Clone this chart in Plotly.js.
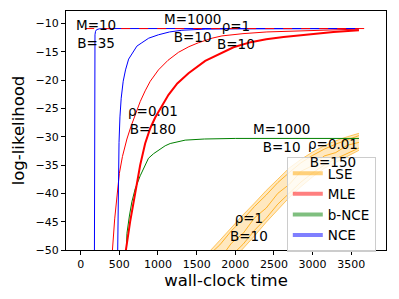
<!DOCTYPE html>
<html>
<head>
<meta charset="utf-8">
<script src="https://cdn.plot.ly/plotly-3.0.1.min.js"></script>
<style>html,body{margin:0;padding:0;background:#fff;}#plot{width:399px;height:299px;}</style>
</head>
<body>
<div id="plot"></div>
<script>
// ---- data ----
const nce1X = [176, 177, 178, 179, 181, 185, 192, 205, 240, 400, 1000, 2000, 3600];
const nce1Y = [-60, -45, -30, -18, -13.5, -12, -11.4, -11.1, -10.95, -10.9, -10.9, -10.9, -10.9];

const nce2X = [470, 476, 486, 496, 508, 524, 550, 580, 620, 662, 727, 792, 880, 1006, 1150, 1309, 1611, 2000, 2600, 3600];
const nce2Y = [-60, -50, -40, -31, -26.5, -23.2, -20.2, -18.2, -16.3, -15.3, -14.0, -13.4, -12.6, -12.0, -11.5, -11.2, -11.0, -10.95, -10.9, -10.9];

const mleThinX = [405, 411, 440, 470, 500, 540, 598, 650, 705, 770, 834, 900, 1006, 1130, 1265, 1400, 1524, 1700, 1827, 2100, 2409, 2700, 3056, 3300, 3600];
const mleThinY = [-55, -50, -44.5, -39.8, -36.5, -33.5, -30.4, -28.2, -26.0, -23.8, -21.9, -20.2, -18.2, -16.5, -15.1, -14.1, -13.4, -12.6, -12.2, -11.8, -11.5, -11.35, -11.2, -11.1, -11.0];

const mleThickX = [575, 585, 640, 705, 770, 834, 900, 964, 1071, 1136, 1250, 1395, 1611, 1847, 1977, 2200, 2400, 2624, 2900, 3270, 3600];
const mleThickY = [-55, -50, -45, -39.6, -35, -31.2, -28.5, -26.6, -24.0, -22.6, -20.6, -18.8, -16.6, -15.0, -14.2, -13.3, -12.8, -12.4, -12.0, -11.5, -11.2];

const bnceX = [580, 590, 598, 630, 662, 705, 770, 877, 942, 1093, 1158, 1352, 1600, 2000, 3600];
const bnceY = [-55, -50, -47.1, -44, -41.5, -39.2, -36.9, -33.8, -33.0, -31.6, -31.2, -30.6, -30.4, -30.3, -30.3];

const trueX = [58, 3770];
const trueY = [-10.9, -10.9];

const lseX = [1500, 1650, 1800, 1950, 2100, 2250, 2400, 2550, 2700, 2850, 3000, 3150, 3300, 3450, 3600];
const lseUpper = [-52.5, -50.5, -48.3, -46.0, -43.8, -41.7, -39.5, -37.5, -35.5, -34.0, -32.7, -31.6, -30.7, -30.0, -29.4];
const lseLower = [-58.5, -56.5, -54.3, -52.0, -49.8, -47.5, -45.1, -42.9, -40.7, -38.8, -37.1, -35.6, -34.5, -33.4, -32.4];
const lseRun1 = [-53.2, -51.0, -49.1, -46.6, -44.6, -42.3, -40.3, -38.1, -36.3, -34.6, -33.3, -32.2, -31.3, -30.5, -29.8];
const lseRun2 = [-55.8, -53.2, -51.6, -48.8, -47.1, -44.3, -42.6, -40.0, -38.4, -36.1, -35.1, -33.4, -32.8, -31.5, -31.0];
const lseRun3 = [-57.6, -55.4, -53.5, -51.0, -49.0, -46.5, -44.4, -41.9, -39.9, -38.0, -36.4, -35.0, -33.9, -32.9, -32.0];

const legendNames = ["LSE", "MLE", "b-NCE", "NCE"];
const xTicks = [0, 500, 1000, 1500, 2000, 2500, 3000, 3500];
const yTicks = [-50, -45, -40, -35, -30, -25, -20, -15, -10];

const labelTexts = ["M=10<br>B=35", "M=1000<br>B=10", "ρ=1<br>B=10", "ρ=0.01<br>B=180", "M=1000<br>B=10", "ρ=0.01<br>B=150", "ρ=1<br>B=10"];
const labelX = [200, 1449, 2005, 938, 2594, 3260, 2180];
const labelY = [-11.8, -10.8, -12.0, -27.1, -30.2, -32.9, -46.0];

// ---- styles ----
const FONT = "DejaVu Sans, Liberation Sans, sans-serif";
const orange = "#FFA500";
const legendColors = ["rgba(255,165,0,0.5)", "rgba(255,0,0,0.5)", "rgba(0,128,0,0.5)", "rgba(0,0,255,0.5)"];

const traces = [
  {x: lseX, y: lseUpper, mode: "lines", line: {width: 0.6, color: orange}, showlegend: false, hoverinfo: "skip"},
  {x: lseX, y: lseLower, mode: "lines", line: {width: 0.6, color: orange}, fill: "tonexty", fillcolor: "rgba(255,165,0,0.25)", showlegend: false, hoverinfo: "skip"},
  {x: lseX, y: lseRun1, mode: "lines", line: {width: 0.8, color: orange}, showlegend: false},
  {x: lseX, y: lseRun2, mode: "lines", line: {width: 0.8, color: orange}, showlegend: false},
  {x: lseX, y: lseRun3, mode: "lines", line: {width: 0.8, color: orange}, showlegend: false},
  {x: bnceX, y: bnceY, mode: "lines", line: {width: 1, color: "#008000"}, showlegend: false},
  {x: mleThinX, y: mleThinY, mode: "lines", line: {width: 1, color: "red"}, showlegend: false},
  {x: mleThickX, y: mleThickY, mode: "lines", line: {width: 2, color: "red"}, showlegend: false},
  {x: nce1X, y: nce1Y, mode: "lines", line: {width: 1, color: "blue"}, showlegend: false},
  {x: nce2X, y: nce2Y, mode: "lines", line: {width: 1, color: "blue"}, showlegend: false},
  {x: trueX, y: trueY, mode: "lines", line: {width: 1, color: "red", dash: "dash"}, showlegend: false}
];
legendNames.forEach((n, i) => {
  traces.push({x: [null], y: [null], mode: "lines", name: n, line: {width: 4, color: legendColors[i]}, showlegend: true});
});

const annotations = labelTexts.map((t, i) => ({
  x: labelX[i], y: labelY[i], xref: "x", yref: "y", text: t, showarrow: false,
  font: {family: FONT, size: 13.5, color: "#000"}, xanchor: "center", yanchor: "middle"
}));

const layout = {
  width: 399, height: 299,
  margin: {l: 66, r: 13, t: 11, b: 49, pad: 0},
  paper_bgcolor: "#fff", plot_bgcolor: "#fff",
  font: {family: FONT, color: "#000"},
  showlegend: true,
  legend: {
    x: 0.69, y: 0.389, xanchor: "left", yanchor: "top", traceorder: "normal",
    bgcolor: "rgba(255,255,255,0.8)", bordercolor: "#cccccc", borderwidth: 1,
    font: {family: FONT, size: 13.5, color: "#000"}, tracegroupgap: 0, itemwidth: 30
  },
  xaxis: {
    range: [-190, 3950], tickvals: xTicks, ticktext: xTicks.map(String),
    showgrid: false, zeroline: false, showline: true, mirror: true, linecolor: "#000", linewidth: 1,
    ticks: "outside", ticklen: 4, tickcolor: "#000", tickfont: {family: FONT, size: 11, color: "#000"},
    title: {text: "wall-clock time", font: {family: FONT, size: 16.5, color: "#000"}, standoff: 4}
  },
  yaxis: {
    range: [-50, -7.8], tickvals: yTicks,
    showgrid: false, zeroline: false, showline: true, mirror: true, linecolor: "#000", linewidth: 1,
    ticks: "outside", ticklen: 4, tickcolor: "#000", tickfont: {family: FONT, size: 11, color: "#000"},
    title: {text: "log-likelihood", font: {family: FONT, size: 16.5, color: "#000"}, standoff: 6}
  },
  annotations: annotations
};

Plotly.newPlot("plot", traces, layout, {staticPlot: true, displayModeBar: false});
</script>
</body>
</html>
